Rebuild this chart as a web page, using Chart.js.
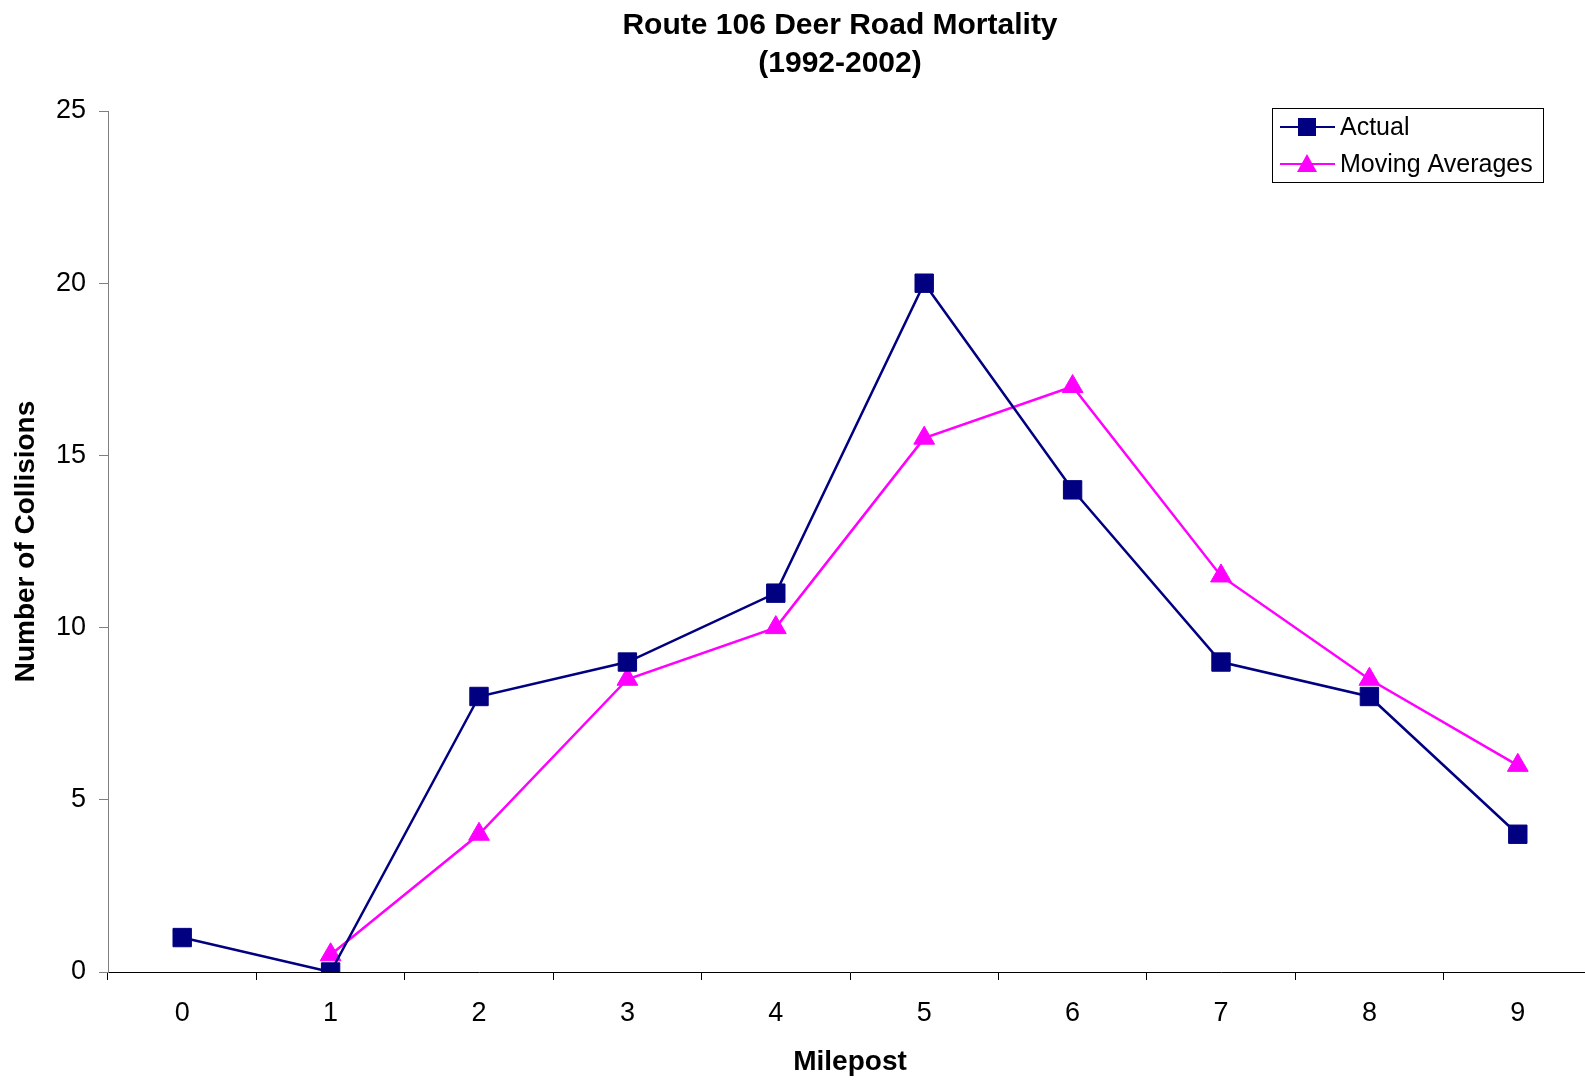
<!DOCTYPE html>
<html>
<head>
<meta charset="utf-8">
<script src="https://cdn.jsdelivr.net/npm/chart.js@4.4.1/dist/chart.umd.min.js"></script>
<style>
  html, body { margin: 0; padding: 0; background: #fff; overflow: hidden; }
  #wrap { position: relative; width: 1606px; height: 1080px; }
</style>
</head>
<body>
<div id="wrap"><canvas id="myChart"></canvas></div>
<script>
var mileposts = ['0', '1', '2', '3', '4', '5', '6', '7', '8', '9'];
var actual = [1, 0, 8, 9, 11, 20, 14, 9, 8, 4];
var movingAverages = [null, 0.5, 4, 8.5, 10, 15.5, 17, 11.5, 8.5, 6];
var titleLines = ['Route 106 Deer Road Mortality', '(1992-2002)'];

var FONT = '"Liberation Sans", Arial, sans-serif';

// two-line title, centred a little left of the plot centre like the original
var chartTitle = {
  id: 'chartTitle',
  afterDraw(chart) {
    const ctx = chart.ctx;
    ctx.save();
    ctx.fillStyle = '#000';
    ctx.font = 'bold 30px ' + FONT;
    ctx.textAlign = 'center';
    ctx.textBaseline = 'middle';
    titleLines.forEach(function (t, i) {
      ctx.fillText(t, 840, 26 + i * 38);
    });
    ctx.restore();
  }
};

// legend in a box, drawn on the canvas like the original
var boxLegend = {
  id: 'boxLegend',
  afterDraw(chart) {
    const ctx = chart.ctx;
    const sets = chart.data.datasets;
    ctx.save();
    ctx.fillStyle = '#fff';
    ctx.fillRect(1272.5, 108.5, 271, 74);
    ctx.strokeStyle = '#000';
    ctx.lineWidth = 1;
    ctx.strokeRect(1272.5, 108.5, 271, 74);
    const rows = [127, 164];
    sets.forEach(function (ds, i) {
      const y = rows[i];
      ctx.strokeStyle = ds.borderColor;
      ctx.lineWidth = 2;
      ctx.beginPath();
      ctx.moveTo(1280, y);
      ctx.lineTo(1335, y);
      ctx.stroke();
      ctx.fillStyle = ds.backgroundColor;
      const cx = 1307;
      if (ds.pointStyle === 'rect') {
        ctx.fillRect(cx - 9, y - 9, 18, 18);
      } else {
        ctx.beginPath();
        ctx.moveTo(cx, y - 10);
        ctx.lineTo(cx + 10, y + 8);
        ctx.lineTo(cx - 10, y + 8);
        ctx.closePath();
        ctx.fill();
      }
      ctx.fillStyle = '#000';
      ctx.font = '25px ' + FONT;
      ctx.textBaseline = 'middle';
      ctx.textAlign = 'left';
      ctx.fillText(ds.label, 1340, y + 1);
    });
    ctx.restore();
  }
};

const ctx1 = document.getElementById('myChart').getContext('2d');

var graph = new Chart(ctx1, {
  type: 'line',
  data: {
    labels: mileposts,
    datasets: [{
      label: 'Actual',
      data: actual,
      borderColor: '#000080',
      backgroundColor: '#000080',
      borderWidth: 2.5,
      pointStyle: 'rect',
      pointRadius: 13,
      pointBorderWidth: 1,
      pointHoverRadius: 13,
      tension: 0
    }, {
      label: 'Moving Averages',
      data: movingAverages,
      borderColor: '#FF00FF',
      backgroundColor: '#FF00FF',
      borderWidth: 2.5,
      pointStyle: 'triangle',
      pointRadius: 12,
      pointBorderWidth: 1,
      pointHoverRadius: 12,
      tension: 0
    }]
  },
  options: {
    responsive: true,
    maintainAspectRatio: false,
    animation: false,
    layout: { padding: { top: 111, left: 0, right: 0, bottom: 0 } },
    plugins: {
      legend: { display: false },
      tooltip: { enabled: false },
      title: { display: false }
    },
    scales: {
      x: {
        offset: true,
        afterFit(scale) { scale.height = 108; },
        grid: {
          display: true,
          drawOnChartArea: false,
          offset: true,
          tickLength: 8,
          color: '#000'
        },
        border: { color: '#000', width: 1 },
        ticks: { color: '#000', font: { family: FONT, size: 27 }, padding: 17, maxRotation: 0 },
        title: {
          display: true,
          text: 'Milepost',
          color: '#000',
          font: { family: FONT, size: 28, weight: 'bold' },
          padding: { top: 0, bottom: 1 }
        }
      },
      y: {
        min: 0,
        max: 25,
        afterFit(scale) { scale.width = 108; },
        ticks: { stepSize: 5, color: '#000', font: { family: FONT, size: 27 }, padding: 13 },
        grid: {
          display: true,
          drawOnChartArea: false,
          tickLength: 9,
          color: '#808080'
        },
        border: { color: '#808080', width: 1 },
        title: {
          display: true,
          text: 'Number of Collisions',
          color: '#000',
          font: { family: FONT, size: 28, weight: 'bold' },
          padding: { top: 9, bottom: 0 }
        }
      }
    }
  },
  plugins: [chartTitle, boxLegend]
});
</script>
</body>
</html>
